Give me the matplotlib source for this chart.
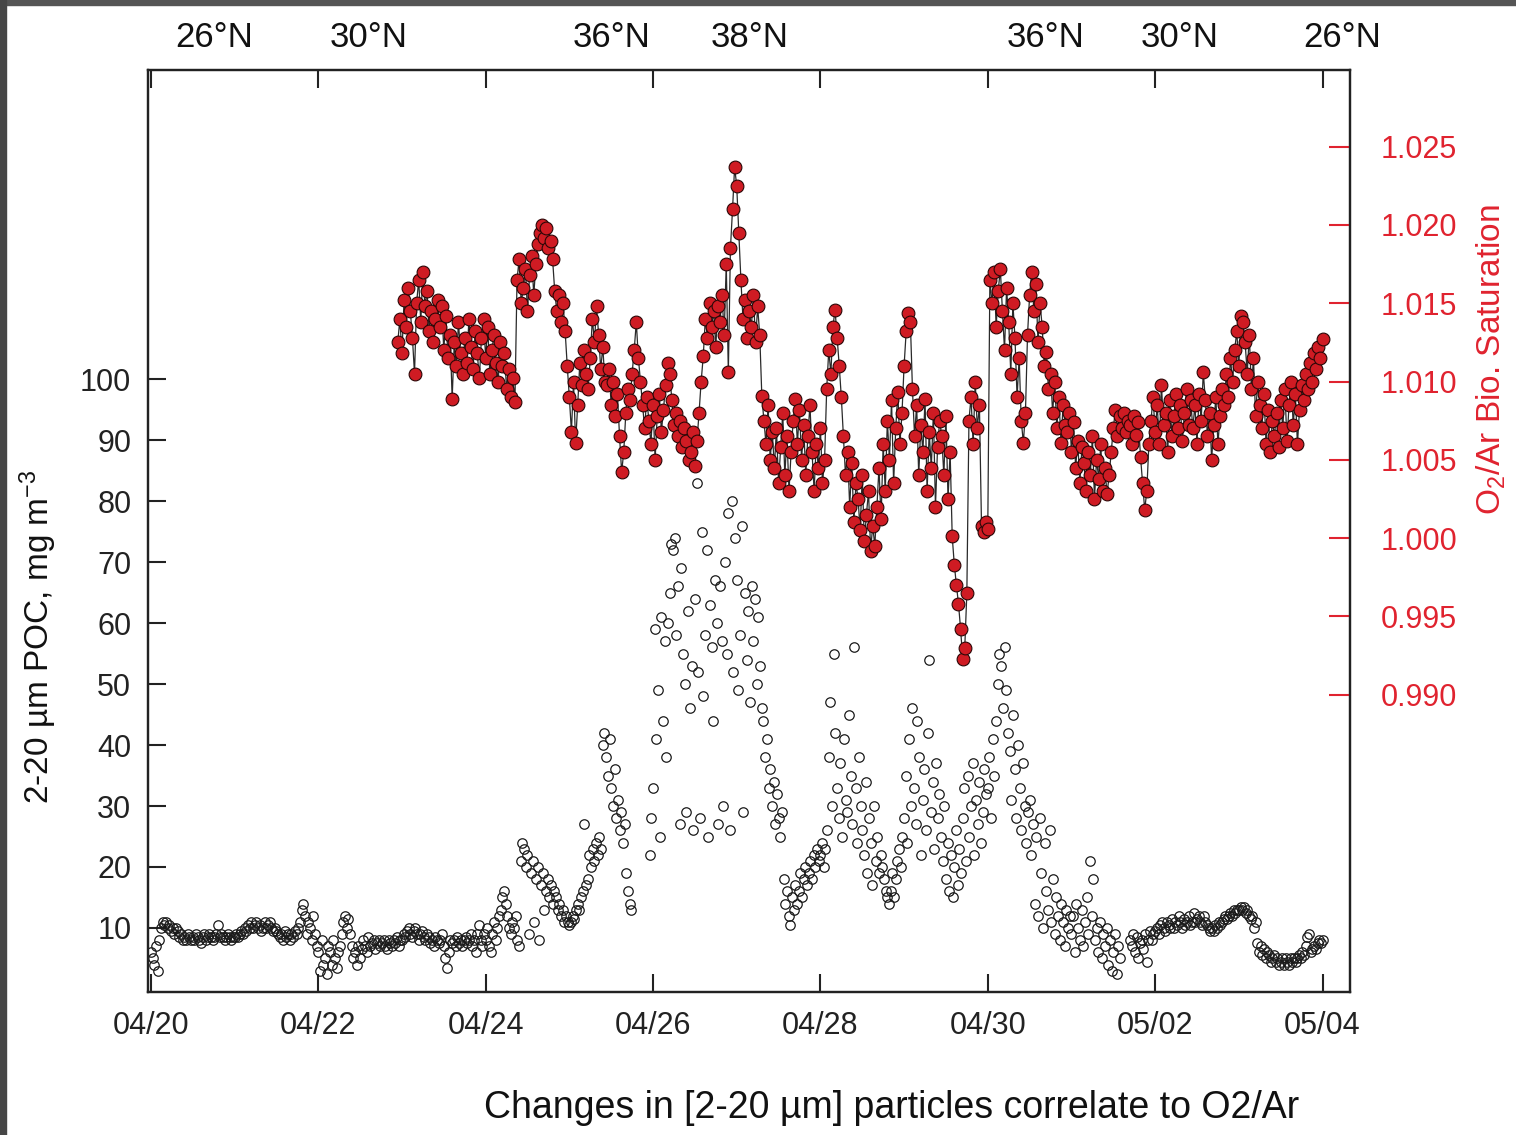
import numpy as np
import matplotlib
matplotlib.use("Agg")
import matplotlib.pyplot as plt
from matplotlib.patches import Rectangle
from matplotlib.transforms import blended_transform_factory

plt.rcParams['font.family'] = ['Liberation Sans', 'DejaVu Sans']
plt.rcParams['mathtext.fontset'] = 'custom'
plt.rcParams['mathtext.rm'] = 'Liberation Sans'
plt.rcParams['mathtext.it'] = 'Liberation Sans:italic'

nan = np.nan

# 2-20 um POC, one reading every 0.02 day starting 04/20 00:00
poc_t0, poc_step = 0.0, 0.02
poc = [
    6, 5, 4, 7, 3, 8, 10, 11, 10.5, 11, 10, 10.5, 9.5, 10, 9, 10, 9.5, 8.5, 9, 8, 8.5, 8, 9, 8.5, 8,
    8.5, 8, 9, 8.5, 8, 7.5, 8.5, 9, 8, 8.5, 9, 8.5, 8, 8.5, 9, 10.5, 8.5, 9, 8.5, 8, 8.5, 9, 8.5, 8, 8.5,
    8.5, 9, 8.5, 9, 9.5, 9, 10, 9.5, 10.5, 10, 11, 10, 10.5, 11, 10, 10.5, 9.5, 10, 11, 10, 10.5, 11, 10, 9.5, 10,
    9.5, 9, 8.5, 9, 8, 9.5, 8.5, 9, 8, 9, 8.5, 9.5, 9, 10, 11, 13, 14, 12, 9, 11, 10, 8, 12, 9, 7,
    6, 3, 8, 4, 5, 2.5, 7, 6, 4, 8, 5, 3.5, 6, 7, 9, 11, 12, 10, 11.5, 9, 7, 5, 6, 4, 7,
    5, 6.5, 8, 7, 6, 8.5, 7, 7.5, 8, 6.5, 7.5, 8, 7, 7.5, 8, 7, 6.5, 8, 7.5, 7, 8, 7.5, 8.5, 7, 8,
    8, 9, 8.5, 9.5, 10, 9, 8.5, 9.5, 10, 9, 8, 9, 9.5, 8.5, 8, 9, 8.5, 7.5, 8, 7, 8.5, 8, 7.5, 8, 9,
    7, 5, 3.5, 6, 8, 7.5, 8, 7, 8.5, 7.5, 8, 7, 8, 8.5, 7.5, 8, 9, 7, 8, 6, 9, 10.5, 8, 7, 9,
    8, 10, 7, 6, 9, 11, 8, 10, 12, 13, 15, 16, 14, 12, 10, 9, 11, 10, 12, 8, 7, 21, 24, 23, 20,
    22, 9, 19, 21, 11, 18, 20, 8, 17, 19, 13, 16, 18, 15, 17, 14, 16, 15, 13, 14, 12, 13, 11, 12, 11,
    10.5, 11, 12, 11.5, 13, 14, 13, 15, 16, 27, 17, 18, 22, 20, 23, 21, 24, 22, 25, 23, 40, 42, 38, 35, 41,
    33, 30, 36, 28, 31, 26, 29, 24, 27, 19, 16, 14, 13, nan, nan, nan, nan, nan, nan, nan, nan, nan, nan, 22, 28,
    33, 59, 41, 49, 25, 61, 44, 57, 38, 60, 65, 73, 72, 74, 58, 66, 27, 69, 55, 50, 29, 62, 46, 53, 26,
    64, 83, 52, 28, 75, 48, 58, 72, 25, 63, 56, 44, 67, 60, 27, 66, 57, 30, 70, 55, 78, 26, 80, 52, 74,
    67, 49, 58, 76, 29, 65, 54, 62, 47, 66, 57, 64, 50, 61, 53, 46, 44, 38, 41, 33, 36, 30, 34, 27, 32,
    28, 25, 29, 18, 14, 16, 12, 10.5, 15, 13, 17, 14, 16, 19, 15, 18, 20, 17, 19, 21, 18, 22, 20, 23, 21,
    22, 24, 20, 23, 26, 38, 47, 30, 55, 42, 33, 28, 37, 25, 41, 31, 29, 45, 35, 27, 56, 33, 24, 38, 30,
    26, 22, 34, 19, 28, 24, 17, 30, 21, 25, 19, 22, 20, 18, 16, 15, 14, 16, 19, 15, 18, 21, 23, 20, 25,
    28, 35, 24, 41, 30, 46, 33, 27, 44, 38, 22, 31, 36, 26, 42, 54, 29, 34, 23, 37, 28, 32, 25, 21, 30,
    18, 24, 16, 22, 15, 20, 26, 17, 23, 19, 28, 33, 21, 35, 25, 30, 37, 22, 31, 27, 34, 24, 29, 36, 32,
    33, 38, 28, 41, 35, 44, 50, 55, 53, 46, 56, 49, 42, 39, 31, 45, 36, 28, 40, 33, 26, 37, 30, 24, 29,
    31, 22, 27, 14, 25, 12, 28, 19, 10, 24, 16, 13, 26, 11, 18, 9, 15, 12, 8, 14, 11, 7, 13, 10, 12,
    9, 12, 6, 14, 10, 8, 13, 7, 11, 15, 9, 21, 12, 18, 8, 10, 6, 11, 5, 9, 7, 10, 4, 8, 3,
    6, 9, 2.5, 7, 5, nan, nan, nan, nan, nan, 8, 7, 9, 6, 8.5, 5, 7.5, 8, 6.5, 9, 4.5, 8, 9.5, 8, 9,
    9.5, 10, 9, 10.5, 11, 10, 9.5, 11, 10.5, 10, 11.5, 10, 11, 10.5, 12, 11, 10, 11.5, 10.5, 11, 12, 10.5, 11, 12.5, 11,
    11.5, 12, 11, 10.5, 12, 11, 10.5, 10, 9.5, 10, 9.5, 10.5, 10, 11, 10.5, 11, 11.5, 12, 11.5, 12, 12.5, 12, 13, 12.5, 13,
    13, 13.5, 13, 13.5, 12.5, 13, 12, 11.5, 12, 10, 11, 7.5, 6, 7, 5.5, 6.5, 5, 6, 5.5, 4.5, 5, 5.5, 4.5, 5, 4,
    4.5, 5, 4, 5, 4.5, 4, 5, 4.5, 5, 4.5, 5, 5.5, 5, 6, 5.5, 7, 8.5, 9, 6, 6.5, 7, 6.5, 7.5, 8, 7.5,
    8,
]

# O2/Ar biological saturation, one reading every 0.025 day from day 2.95
o2_t0, o2_step = 2.95, 0.025
o2ar = [
    1.0125, 1.0140, 1.0118, 1.0152, 1.0135, 1.0160, 1.0145, 1.0128, 1.0105, 1.0150, 1.0165, 1.0138, 1.0170, 1.0148, 1.0158, 1.0132, 1.0145, 1.0125, 1.0140, 1.0152,
    1.0135, 1.0148, 1.0120, 1.0142, 1.0115, 1.0130, 1.0089, 1.0125, 1.0110, 1.0138, 1.0118, 1.0105, 1.0128, 1.0112, 1.0140, 1.0122, 1.0108, 1.0132, 1.0118, 1.0102,
    1.0128, 1.0140, 1.0115, 1.0135, 1.0105, 1.0120, 1.0130, 1.0112, 1.0100, 1.0125, 1.0110, 1.0118, 1.0095, 1.0108, 1.0090, 1.0102, 1.0087, 1.0165, 1.0178, 1.0150,
    1.0160, 1.0172, 1.0145, 1.0168, 1.0180, 1.0155, 1.0175, 1.0188, 1.0195, 1.0200, 1.0192, 1.0198, 1.0185, 1.0190, 1.0178, 1.0158, 1.0145, 1.0155, 1.0138, 1.0150,
    1.0132, 1.0110, 1.0090, 1.0068, 1.0100, 1.0061, 1.0085, 1.0112, 1.0098, 1.0120, 1.0105, 1.0095, 1.0115, 1.0140, 1.0125, 1.0148, 1.0130, 1.0108, 1.0122, 1.0100,
    1.0098, 1.0108, 1.0085, 1.0100, 1.0078, 1.0092, 1.0065, 1.0042, 1.0055, 1.0080, 1.0095, 1.0088, 1.0105, 1.0120, 1.0138, 1.0115, 1.0100, 1.0085, 1.0070, 1.0090,
    1.0075, 1.0060, 1.0085, 1.0050, 1.0078, 1.0092, 1.0068, 1.0082, 1.0098, 1.0112, 1.0105, 1.0088, 1.0072, 1.0080, 1.0065, 1.0075, 1.0058, 1.0070, 1.0062, 1.0050,
    1.0055, 1.0068, 1.0046, 1.0062, 1.0080, 1.0100, 1.0116, 1.0140, 1.0128, 1.0150, 1.0135, 1.0145, 1.0122, 1.0148, 1.0138, 1.0155, 1.0130, 1.0175, 1.0106, 1.0185,
    1.0210, 1.0237, 1.0225, 1.0195, 1.0165, 1.0140, 1.0152, 1.0128, 1.0145, 1.0135, 1.0155, 1.0125, 1.0148, 1.0130, 1.0091, 1.0075, 1.0060, 1.0085, 1.0050, 1.0068,
    1.0045, 1.0070, 1.0035, 1.0058, 1.0080, 1.0040, 1.0065, 1.0030, 1.0055, 1.0075, 1.0089, 1.0060, 1.0082, 1.0050, 1.0072, 1.0040, 1.0065, 1.0085, 1.0055, 1.0030,
    1.0060, 1.0045, 1.0070, 1.0035, 1.0050, 1.0095, 1.0120, 1.0105, 1.0135, 1.0146, 1.0128, 1.0110, 1.0090, 1.0065, 1.0040, 1.0055, 1.0020, 1.0048, 1.0010, 1.0035,
    1.0025, 1.0005, 1.0040, 0.9998, 1.0015, 1.0030, 0.9992, 1.0008, 0.9995, 1.0020, 1.0045, 1.0012, 1.0060, 1.0030, 1.0075, 1.0050, 1.0088, 1.0035, 1.0070, 1.0093,
    1.0060, 1.0080, 1.0110, 1.0132, 1.0144, 1.0138, 1.0095, 1.0065, 1.0085, 1.0040, 1.0072, 1.0055, 1.0089, 1.0030, 1.0068, 1.0045, 1.0080, 1.0020, 1.0058, 1.0075,
    1.0065, 1.0040, 1.0078, 1.0025, 1.0055, 1.0001, 0.9983, 0.9970, 0.9958, 0.9942, 0.9923, 0.9930, 0.9965, 1.0075, 1.0090, 1.0060, 1.0100, 1.0070, 1.0085, 1.0008,
    1.0004, 1.0010, 1.0006, 1.0165, 1.0150, 1.0170, 1.0135, 1.0158, 1.0172, 1.0145, 1.0120, 1.0160, 1.0138, 1.0105, 1.0150, 1.0128, 1.0090, 1.0115, 1.0075, 1.0061,
    1.0080, 1.0130, 1.0155, 1.0170, 1.0145, 1.0162, 1.0125, 1.0150, 1.0135, 1.0110, 1.0119, 1.0095, 1.0105, 1.0080, 1.0100, 1.0070, 1.0090, 1.0061, 1.0085, 1.0072,
    1.0068, 1.0080, 1.0055, 1.0074, 1.0045, 1.0062, 1.0035, 1.0058, 1.0048, 1.0030, 1.0055, 1.0040, 1.0065, 1.0025, 1.0050, 1.0038, 1.0060, 1.0030, 1.0045, 1.0028,
    1.0040, 1.0055, 1.0070, 1.0082, 1.0065, 1.0078, 1.0070, 1.0080, 1.0068, 1.0075, 1.0072, 1.0060, 1.0078, 1.0066, 1.0074, 1.0052, 1.0035, 1.0018, 1.0030, 1.0060,
    1.0075, 1.0090, 1.0068, 1.0085, 1.0060, 1.0098, 1.0072, 1.0080, 1.0055, 1.0088, 1.0065, 1.0078, 1.0092, 1.0070, 1.0085, 1.0062, 1.0080, 1.0095, 1.0072, 1.0088,
    1.0070, 1.0085, 1.0060, 1.0092, 1.0075, 1.0106, 1.0088, 1.0065, 1.0080, 1.0050, 1.0072, 1.0090, 1.0060, 1.0078, 1.0095, 1.0085, 1.0105, 1.0090, 1.0115, 1.0100,
    1.0120, 1.0132, 1.0110, 1.0142, 1.0138, 1.0125, 1.0105, 1.0130, 1.0095, 1.0115, 1.0078, 1.0100, 1.0085, 1.0070, 1.0092, 1.0060, 1.0082, 1.0055, 1.0075, 1.0065,
    1.0080, 1.0058, 1.0088, 1.0070, 1.0095, 1.0062, 1.0085, 1.0100, 1.0072, 1.0092, 1.0060, 1.0082, 1.0098, 1.0088, 1.0105, 1.0095, 1.0112, 1.0100, 1.0118, 1.0108, 1.0122, 1.0115, 1.0127,
]

date_ticks = [0, 2, 4, 6, 8, 10, 12, 14]
date_labels = ['04/20', '04/22', '04/24', '04/26', '04/28', '04/30', '05/02', '05/04']
lat_pos = [0.76, 2.60, 5.51, 7.16, 10.69, 12.29, 14.24]
lat_labels = ['26°N', '30°N', '36°N', '38°N', '36°N', '30°N', '26°N']

red = '#e0232f'

poc_t = poc_t0 + poc_step * np.arange(len(poc))
o2_t = o2_t0 + o2_step * np.arange(len(o2ar))

fig = plt.figure(figsize=(15.16, 11.35), dpi=100)
ax1 = fig.add_axes([0.0976, 0.126, 0.793, 0.8123])

ax1.plot(poc_t, poc, linestyle='none', marker='o', markersize=6.8,
         markerfacecolor='none', markeredgecolor='#1a1a1a', markeredgewidth=0.9)

ax1.set_xlim(-0.035, 14.33)
ax1.set_ylim(-0.5, 150.7)
ax1.set_yticks(range(10, 101, 10))
ax1.set_xticks(date_ticks)
ax1.set_xticklabels(date_labels)
ax1.tick_params(axis='both', direction='in', length=13, width=1.5, labelsize=22,
                colors='#222222')
ax1.tick_params(axis='x', top=True, pad=14)
ax1.tick_params(axis='y', pad=12)
for s in ax1.spines.values():
    s.set_linewidth(1.6)
    s.set_color('#222222')

ax2 = ax1.twinx()
ax2.plot(o2_t, o2ar, '-', color='#2a2a2a', linewidth=0.9, marker='o', markersize=9.2,
         markerfacecolor='#cf1b23', markeredgecolor='#2b0707', markeredgewidth=0.8)
ax2.set_ylim(0.9710, 1.0299)
ax2.set_yticks([0.990, 0.995, 1.000, 1.005, 1.010, 1.015, 1.020, 1.025])
ax2.set_yticklabels(['%.3f' % v for v in ax2.get_yticks()])
ax2.tick_params(axis='y', direction='in', length=15, width=1.5, color=red,
                labelcolor=red, labelsize=22, pad=22)
for s in ax2.spines.values():
    s.set_linewidth(1.6)
    s.set_color('#222222')

trans = blended_transform_factory(ax1.transData, fig.transFigure)
for x, lab in zip(lat_pos, lat_labels):
    ax1.text(x, 0.967, lab, transform=trans, ha='center', va='center',
             fontsize=25, color='#111111')

fig.text(0.025, 0.439, '2-20 µm POC, mg m$^{-3}$', rotation=90, ha='center',
         va='center', fontsize=24, color='#111111')
fig.text(0.984, 0.683, 'O$_2$/Ar Bio. Saturation', rotation=90, ha='center',
         va='center', fontsize=24, color=red)
fig.text(0.588, 0.024, 'Changes in [2-20 µm] particles correlate to O2/Ar',
         ha='center', va='center', fontsize=27, color='#111111')

# dark frame strips along top and left edge
fig.patches.append(Rectangle((0, 1 - 5 / 1135), 1, 5 / 1135, transform=fig.transFigure,
                             color='#555555', zorder=10))
fig.patches.append(Rectangle((0, 0), 6 / 1516, 1, transform=fig.transFigure,
                             color='#464646', zorder=10))

fig.savefig('out.png', dpi=100)
